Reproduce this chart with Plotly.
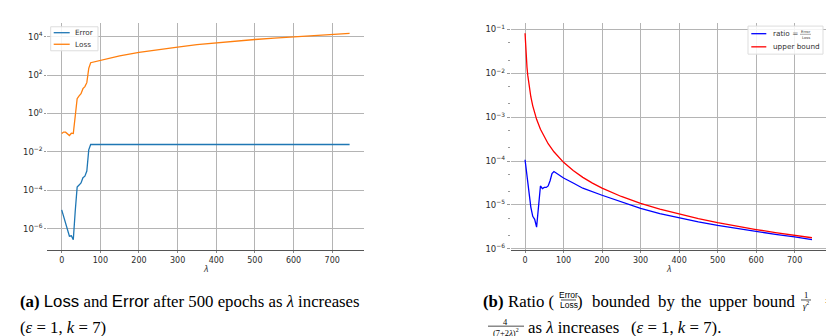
import plotly.graph_objects as go

W, H = 834, 336

# ---------------- data ----------------
lam_a = [0, 5, 10, 15, 20, 25, 30, 35, 40, 45, 50, 55, 60, 65, 70, 75,
         100, 125, 150, 200, 250, 300, 350, 400, 450, 500, 550, 600, 650, 700, 745]
error = [9.5e-6, 4.5e-6, 2.1e-6, 1.0e-6, 4.0e-7, 4.2e-7, 2.6e-7, 8.0e-6, 1.45e-4, 1.85e-4,
         2.4e-4, 4.5e-4, 5.4e-4, 1.0e-3, 1.26e-2, 2.4e-2,
         2.4e-2, 2.4e-2, 2.4e-2, 2.4e-2, 2.4e-2, 2.4e-2, 2.4e-2, 2.4e-2, 2.4e-2, 2.4e-2,
         2.4e-2, 2.4e-2, 2.4e-2, 2.4e-2, 2.4e-2]
loss = [0.089, 0.107, 0.105, 0.089, 0.071, 0.093, 0.089, 0.71, 5.9, 8.3,
        10.7, 19.5, 25, 40, 224, 437,
        590, 760, 1000, 1510, 2140, 2880, 3800, 4790, 5890, 7080,
        8320, 9770, 11200, 12900, 14800]

lam_r = [0, 5, 10, 15, 20, 25, 30, 35, 40, 45, 50, 55, 60, 65, 70, 75, 80,
         100, 125, 150, 200, 250, 300, 350, 400, 450, 500, 550, 600, 650, 700, 745]
ratio = [1.07e-4, 4.5e-5, 1.9e-5, 8.9e-6, 5.5e-6, 4.7e-6, 3.1e-6, 1.12e-5, 2.7e-5, 2.35e-5,
         2.5e-5, 2.5e-5, 2.7e-5, 3.55e-5, 5.2e-5, 5.75e-5, 5.4e-5,
         4.1e-5, 3.15e-5, 2.4e-5, 1.66e-5, 1.15e-5, 8.3e-6, 6.3e-6, 5.0e-6, 4.1e-6,
         3.4e-6, 2.9e-6, 2.45e-6, 2.14e-6, 1.86e-6, 1.62e-6]

lam_b = [0, 1, 2, 3, 5, 7, 10, 15, 20, 25, 30, 40, 50, 60, 75, 100, 125, 150, 175,
         200, 250, 300, 350, 400, 450, 500, 550, 600, 650, 700, 745]
bound = [0.0816, 0.04938, 0.03306, 0.02367, 0.01384, 0.00907, 0.005487, 0.002922,
         0.001811, 0.001231, 0.000891, 0.0005285, 0.0003494, 0.000248, 0.0001623,
         9.335e-5, 6.056e-5, 4.244e-5, 3.139e-5, 2.415e-5, 1.556e-5, 1.086e-5,
         8.002e-6, 6.142e-6, 4.862e-6, 3.945e-6, 3.264e-6, 2.746e-6, 2.342e-6,
         2.021e-6, 1.785e-6]

x_ticks = [0, 100, 200, 300, 400, 500, 600, 700]
ya_ticks = [1e-6, 1e-4, 1e-2, 1e0, 1e2, 1e4]
ya_text = ["10<sup>\u22126</sup>", "10<sup>\u22124</sup>", "10<sup>\u22122</sup>",
           "10<sup>0</sup>", "10<sup>2</sup>", "10<sup>4</sup>"]
yb_ticks = [1e-6, 1e-5, 1e-4, 1e-3, 1e-2, 1e-1]
yb_text = ["10<sup>\u22126</sup>", "10<sup>\u22125</sup>", "10<sup>\u22124</sup>",
           "10<sup>\u22123</sup>", "10<sup>\u22122</sup>", "10<sup>\u22121</sup>"]

# ---------------- helpers ----------------
def X(px):
    return px / W

def Y(py):
    return 1 - py / H

SANS = "DejaVu Sans"
SERIF = "Liberation Serif, Times New Roman, serif"
NARROW = "Liberation Sans Narrow, Liberation Sans, Arial, sans-serif"
TICK = "#2b2b2b"
GRID = "#b4b4b4"

fig = go.Figure()
fig.add_trace(go.Scatter(x=lam_a, y=error, mode="lines", line=dict(color="#1f77b4", width=1.3),
                         xaxis="x", yaxis="y", showlegend=False))
fig.add_trace(go.Scatter(x=lam_a, y=loss, mode="lines", line=dict(color="#ff7f0e", width=1.3),
                         xaxis="x", yaxis="y", showlegend=False))
fig.add_trace(go.Scatter(x=lam_r, y=ratio, mode="lines", line=dict(color="#0000ff", width=1.3),
                         xaxis="x2", yaxis="y2", showlegend=False))
fig.add_trace(go.Scatter(x=lam_b, y=bound, mode="lines", line=dict(color="#ff0000", width=1.3),
                         xaxis="x2", yaxis="y2", showlegend=False))

xcommon = dict(range=[-37.25, 782.25], tickvals=x_ticks, showgrid=True, gridcolor=GRID,
               gridwidth=1.2, showline=True, linecolor="#555555", linewidth=1.2,
               ticks="outside", ticklen=2, tickcolor="#888888",
               tickfont=dict(family=SANS, size=8, color=TICK), zeroline=False)
ydom = [Y(245), Y(15)]

fig.update_layout(
    width=W, height=H, margin=dict(l=0, r=0, t=0, b=0),
    paper_bgcolor="white", plot_bgcolor="white", showlegend=False,
    xaxis=dict(domain=[X(39.3), X(356)], anchor="y", **xcommon),
    xaxis2=dict(domain=[X(502.7), X(818.3)], anchor="y2", **xcommon),
    yaxis=dict(domain=ydom, anchor="x", type="log", range=[-7.12, 4.72],
               tickvals=ya_ticks, ticktext=ya_text, showgrid=True, gridcolor=GRID, gridwidth=1.2,
               showline=False, ticks="outside", ticklen=2, tickcolor="#999999",
               tickfont=dict(family=SANS, size=8.5, color=TICK), zeroline=False),
    yaxis2=dict(domain=ydom, anchor="x2", type="log", range=[-6.03, -0.85],
                tickvals=yb_ticks, ticktext=yb_text, showgrid=True, gridcolor=GRID, gridwidth=1.2,
                showline=False, ticks="outside", ticklen=3, tickcolor="#999999",
                tickfont=dict(family=SANS, size=8.5, color=TICK), zeroline=False,
                minor=dict(ticks="outside", ticklen=1.5, tickcolor="#999999", showgrid=False)),
)

shapes = []
anns = []

def line(x0, y0, x1, y1, color, width=1.3):
    shapes.append(dict(type="line", xref="paper", yref="paper", x0=X(x0), y0=Y(y0),
                       x1=X(x1), y1=Y(y1), line=dict(color=color, width=width)))

def text(t, x, y, size, family, xanchor="left", color="#000000"):
    anns.append(dict(text=t, x=X(x), y=Y(y), xref="paper", yref="paper", showarrow=False,
                     xanchor=xanchor, yanchor="middle", font=dict(family=family, size=size, color=color),
                     borderpad=0, borderwidth=0))

# legend (a)
shapes.append(dict(type="rect", xref="paper", yref="paper", x0=X(42.7), y0=Y(43.3), x1=X(90), y1=Y(19),
                   line=dict(color="#dddddd", width=1), fillcolor="rgba(255,255,255,0.85)"))
line(45.7, 25, 61.7, 25, "#1f77b4")
line(45.7, 36.7, 61.7, 36.7, "#ff7f0e")
text("Error", 66.5, 25, 7.3, SANS, color="#333333")
text("Loss", 66.5, 36.7, 7.3, SANS, color="#333333")

# legend (b)
shapes.append(dict(type="rect", xref="paper", yref="paper", x0=X(740), y0=Y(46.7), x1=X(815), y1=Y(18.3),
                   line=dict(color="#dddddd", width=1), fillcolor="rgba(255,255,255,0.85)"))
line(743.3, 26, 758.3, 26, "#0000ff")
line(743.3, 39.3, 758.3, 39.3, "#ff0000")
text("ratio =", 765, 26, 7.3, SANS, color="#333333")
text("Error", 797.5, 23.3, 3.8, SANS, xanchor="center", color="#333333")
text("Loss", 797.5, 29.8, 3.8, SANS, xanchor="center", color="#333333")
line(792, 26.6, 803, 26.6, "#555555", 0.5)
text("upper bound", 765, 39.3, 7.3, SANS, color="#333333")

# axis titles
text("<i>\u03bb</i>", 197.7, 265, 8, SANS, xanchor="center", color="#333333")
text("<i>\u03bb</i>", 660.5, 265, 8, SANS, xanchor="center", color="#333333")

# caption (a)
CAP = 16.8
NSPAN = "<span style='font-family:Liberation Sans Narrow, Liberation Sans, Arial'>"
text("<b>(a)</b> " + NSPAN + "Loss</span> and " + NSPAN + "Error</span> after 500 epochs as "
     "<i>\u03bb</i> increases", 12, 297, CAP, SERIF)
text("(<i>\u03b5</i> = 1, <i>k</i> = 7)", 12, 323, CAP, SERIF)

# caption (b), line 1 (justified: words placed one by one)
text("<b>(b)</b>", 475, 297, CAP, SERIF)
text("Ratio (", 500, 297, CAP, SERIF)
text("Error", 560.5, 290.5, 8.5, NARROW, xanchor="center")
line(553, 295.5, 568, 295.5, "#000000", 0.7)
text("Loss", 560.5, 300.5, 8.5, NARROW, xanchor="center")
text(")", 569, 297, CAP, SERIF)
text("bounded", 584, 297, CAP, SERIF)
text("by", 650, 297, CAP, SERIF)
text("the", 673, 297, CAP, SERIF)
text("upper", 701, 297, CAP, SERIF)
text("bound", 745, 297, CAP, SERIF)
text("1", 798, 290.5, 8.5, SERIF, xanchor="center")
line(793, 295.5, 803, 295.5, "#000000", 0.7)
text("<i>\u03b3</i><sup>2</sup>", 798, 301, 8.5, SERIF, xanchor="center")
text("=", 817, 297, CAP, SERIF)
# caption (b), line 2
text("4", 498, 317.5, 8.5, SERIF, xanchor="center")
line(480, 322, 516, 322, "#000000", 0.7)
text("(7+2<i>\u03bb</i>)<sup>2</sup>", 498, 328, 8.5, SERIF, xanchor="center")
text("as <i>\u03bb</i> increases", 520, 323, CAP, SERIF)
text("(<i>\u03b5</i> = 1, <i>k</i> = 7).", 623, 323, CAP, SERIF)

fig.update_layout(shapes=shapes, annotations=anns)
fig.write_html("out.html")
